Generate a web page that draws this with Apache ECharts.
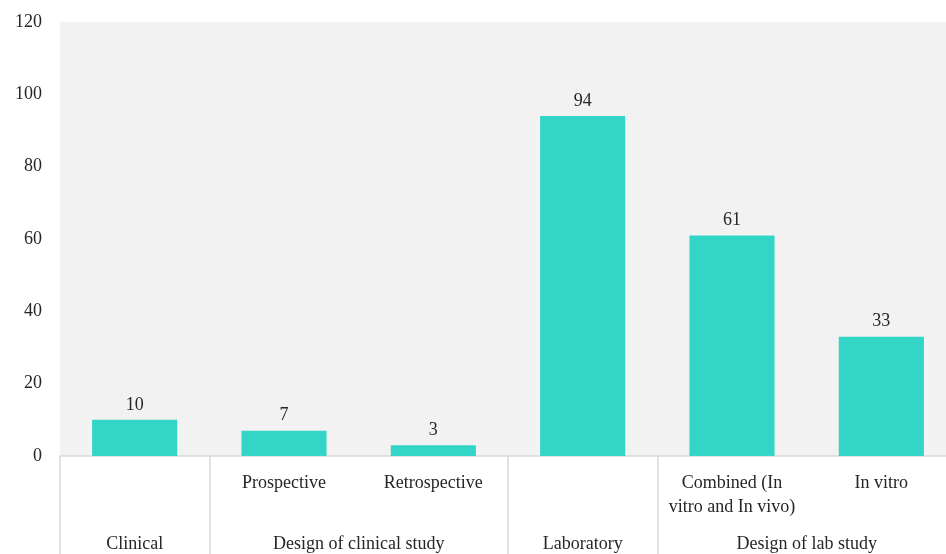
<!DOCTYPE html>
<html>
<head>
<meta charset="utf-8">
<script src="https://cdn.jsdelivr.net/npm/echarts@6/dist/echarts.min.js"></script>
<style>
  html, body { margin: 0; padding: 0; background: #fff; }
  #chart { width: 946px; height: 554px; }
</style>
</head>
<body>
<div id="chart"></div>
<script>
// sub categories (empty for top-level groups)
const subLabels = ['', 'Prospective', 'Retrospective', '', 'Combined (In\nvitro and In vivo)', 'In vitro'];
const counts = [10, 7, 3, 94, 61, 33];
// group labels and where they sit on a 0..6 scale
const groupLabels = ['Clinical', 'Design of clinical study', 'Laboratory', 'Design of lab study'];
const groupCenters = [0.5, 2, 3.5, 5];
const groupDividers = [0, 1, 3, 4];
const yTicks = [0, 20, 40, 60, 80, 100, 120];

const font = 'Liberation Serif';
const fs = 18;
const textColor = '#262626';

var myChart = echarts.init(document.getElementById('chart'));
myChart.setOption({
    animation: false,
    grid: {
        left: 60, right: -10, top: 22, bottom: 98,
        outerBoundsMode: 'none', containLabel: false,
        show: true, backgroundColor: '#f2f2f2', borderWidth: 0
    },
    xAxis: [{
        type: 'category',
        data: subLabels,
        axisLine: { lineStyle: { color: '#d9d9d9', width: 1.5 } },
        axisTick: { show: false },
        axisLabel: {
            interval: 0, margin: 15, fontFamily: font, fontSize: fs,
            color: textColor, lineHeight: 24
        }
    }, {
        type: 'value',
        position: 'bottom',
        min: 0, max: 6,
        axisLine: { show: false },
        splitLine: { show: false },
        axisTick: {
            show: true, customValues: groupDividers, length: 98,
            lineStyle: { color: '#d9d9d9', width: 1.5 }
        },
        axisLabel: {
            customValues: groupCenters, margin: 79,
            fontFamily: font, fontSize: fs, color: textColor,
            formatter: function (v) {
                const i = groupCenters.indexOf(v);
                return i >= 0 ? groupLabels[i] : '';
            }
        }
    }],
    yAxis: {
        type: 'value',
        min: yTicks[0], max: yTicks[yTicks.length - 1], interval: 20,
        axisLine: { show: false },
        axisTick: { show: false },
        splitLine: { show: false },
        axisLabel: { margin: 18, fontFamily: font, fontSize: fs, color: textColor }
    },
    series: [{
        type: 'bar',
        data: counts,
        barWidth: '57%',
        itemStyle: { color: '#33d6c6' },
        label: {
            show: true, position: 'top', distance: 6,
            fontFamily: font, fontSize: fs, color: textColor
        }
    }]
});
</script>
</body>
</html>
